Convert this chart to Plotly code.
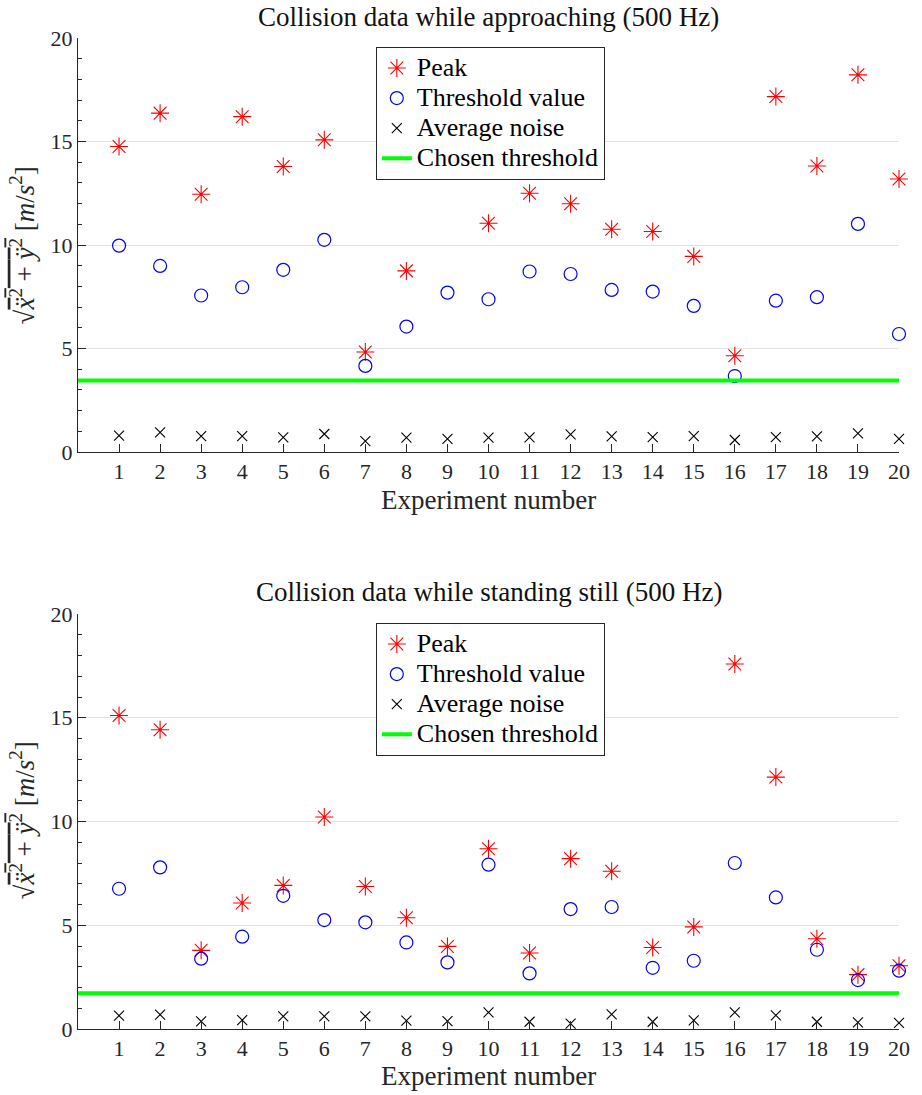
import plotly.graph_objects as go

experiments = list(range(1, 21))
x_ticks = list(range(1, 21))
y_ticks = [0, 5, 10, 15, 20]

titles = ["Collision data while approaching (500 Hz)",
          "Collision data while standing still (500 Hz)"]
series_names = ["Peak", "Threshold value", "Average noise", "Chosen threshold"]

peak_app = [14.76, 16.37, 12.45, 16.20, 13.79, 15.08, 4.83, 8.75, 13.60, 11.05,
            12.50, 11.99, 10.76, 10.65, 9.45, 4.65, 17.17, 13.82, 18.22, 13.19]
thr_app = [9.97, 8.99, 7.56, 7.96, 8.80, 10.25, 4.16, 6.06, 7.70, 7.38,
           8.72, 8.60, 7.83, 7.75, 7.06, 3.67, 7.31, 7.48, 11.02, 5.70]
noise_app = [0.79, 0.95, 0.77, 0.77, 0.71, 0.87, 0.53, 0.69, 0.63, 0.69,
             0.71, 0.85, 0.76, 0.72, 0.77, 0.58, 0.72, 0.76, 0.90, 0.63]
chosen_app = 3.45

peak_still = [15.11, 14.42, 3.79, 6.07, 6.92, 10.22, 6.87, 5.36, 3.98, 8.69,
              3.66, 8.21, 7.60, 3.93, 4.92, 17.59, 12.14, 4.35, 2.62, 3.05]
thr_still = [6.76, 7.79, 3.39, 4.45, 6.42, 5.25, 5.14, 4.17, 3.21, 7.92,
             2.68, 5.78, 5.88, 2.95, 3.29, 8.00, 6.34, 3.82, 2.36, 2.81]
noise_still = [0.64, 0.69, 0.37, 0.43, 0.61, 0.61, 0.61, 0.40, 0.38, 0.80,
               0.35, 0.26, 0.71, 0.35, 0.42, 0.80, 0.66, 0.35, 0.32, 0.29]
chosen_still = 1.72

FONT = "Liberation Serif"
AX = "#262626"
W, H = 922, 1095
ML, MR, MT, MB = 78, 17, 38, 66
plot_h = H - MT - MB
TXT = 27
LEG_TXT = 26

def leg_name(s):
    return "<span style='font-size:%dpx'>%s</span>" % (LEG_TXT, s)

fig = go.Figure()

panels = [
    (peak_app, thr_app, noise_app, chosen_app, "x", "y", "legend"),
    (peak_still, thr_still, noise_still, chosen_still, "x2", "y2", "legend2"),
]
for peak, thr, noise, chosen, xa, ya, lg in panels:
    fig.add_trace(go.Scatter(
        x=experiments, y=peak, mode="markers", name=leg_name(series_names[0]),
        xaxis=xa, yaxis=ya, legend=lg, cliponaxis=False,
        marker=dict(symbol="asterisk-open", size=15, color="#ff0000",
                    line=dict(color="#ff0000", width=1.1))))
    fig.add_trace(go.Scatter(
        x=experiments, y=thr, mode="markers", name=leg_name(series_names[1]),
        xaxis=xa, yaxis=ya, legend=lg, cliponaxis=False,
        marker=dict(symbol="circle-open", size=13, color="#0000ff",
                    line=dict(color="#0000ff", width=1.2))))
    fig.add_trace(go.Scatter(
        x=experiments, y=noise, mode="markers", name=leg_name(series_names[2]),
        xaxis=xa, yaxis=ya, legend=lg, cliponaxis=False,
        marker=dict(symbol="x-thin-open", size=10, color="#000000",
                    line=dict(color="#000000", width=1.1))))
    fig.add_trace(go.Scatter(
        x=[0, 20], y=[chosen, chosen], mode="lines", name=leg_name(series_names[3]),
        xaxis=xa, yaxis=ya, legend=lg, cliponaxis=False,
        line=dict(color="#00ff00", width=4)))

top_dom = [(H - MB - 452) / plot_h, 1.0]
bot_dom = [0.0, (H - MB - 614) / plot_h]

def xaxis_cfg(anchor):
    return dict(domain=[0, 1], anchor=anchor, range=[0, 20], tickvals=x_ticks,
                ticks="inside", ticklen=8, tickcolor=AX, tickwidth=1,
                showline=True, linecolor=AX, linewidth=1, showgrid=False,
                zeroline=False, tickfont=dict(family=FONT, size=22, color=AX))

def yaxis_cfg(anchor, dom):
    return dict(domain=dom, anchor=anchor, range=[0, 20], tickvals=y_ticks,
                ticks="inside", ticklen=8, tickcolor=AX, tickwidth=1,
                showline=True, linecolor=AX, linewidth=1, showgrid=True,
                gridcolor="#e3e3e3", gridwidth=1, zeroline=False,
                minor=dict(dtick=1, ticks="inside", ticklen=4, tickcolor=AX,
                           showgrid=False),
                tickfont=dict(family=FONT, size=22, color=AX))

leg_common = dict(bgcolor="white", bordercolor=AX, borderwidth=1,
                  font=dict(family=FONT, size=20.8, color="black"),
                  xanchor="left", yanchor="top", tracegroupgap=0,
                  itemsizing="trace")

fig.update_layout(
    width=W, height=H,
    margin=dict(l=ML, r=MR, t=MT, b=MB),
    paper_bgcolor="white", plot_bgcolor="white",
    xaxis=xaxis_cfg("y"), yaxis=yaxis_cfg("x", top_dom),
    xaxis2=xaxis_cfg("y2"), yaxis2=yaxis_cfg("x2", bot_dom),
    legend=dict(x=(378 - ML) / (W - ML - MR), y=(H - MB - 47) / plot_h, **leg_common),
    legend2=dict(x=(378 - ML) / (W - ML - MR), y=(H - MB - 623) / plot_h, **leg_common),
    showlegend=True,
)

ylabel = ("√<span style='text-decoration:overline'><i>ẍ</i><sup>2</sup> + <i>ÿ</i><sup>2</sup></span>"
          " [<i>m</i>/<i>s</i><sup>2</sup>]")

def py(px):
    return (H - MB - px) / plot_h

def pxx(px):
    return (px - ML) / (W - ML - MR)

annots = []
for title, t_y, xl_y, yl_y in [(titles[0], 17, 500, 245), (titles[1], 592, 1076, 820)]:
    annots.append(dict(text=title, x=0.5, y=py(t_y), xref="paper", yref="paper",
                       showarrow=False, xanchor="center", yanchor="middle",
                       font=dict(family=FONT, size=TXT, color="#111111")))
    annots.append(dict(text="Experiment number", x=0.5, y=py(xl_y), xref="paper",
                       yref="paper", showarrow=False, xanchor="center", yanchor="middle",
                       font=dict(family=FONT, size=TXT, color=AX)))
    annots.append(dict(text=ylabel, x=pxx(22), y=py(yl_y), xref="paper", yref="paper",
                       showarrow=False, xanchor="center", yanchor="middle", textangle=-90,
                       font=dict(family=FONT, size=TXT, color=AX)))
fig.update_layout(annotations=annots)

fig.write_html("out.html", config={"displayModeBar": False},
               post_script="document.body.style.margin='0';")
